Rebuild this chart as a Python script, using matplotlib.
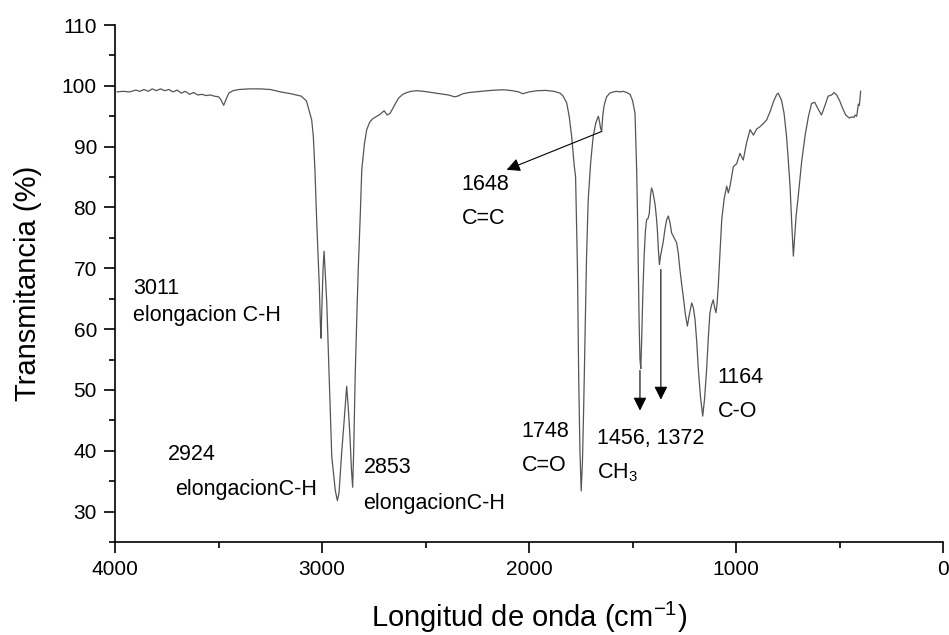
import matplotlib
matplotlib.use('Agg')
import matplotlib.pyplot as plt
from matplotlib.ticker import MultipleLocator

plt.rcParams['font.family'] = ['Liberation Sans', 'DejaVu Sans']
plt.rcParams['mathtext.fontset'] = 'custom'
plt.rcParams['mathtext.rm'] = 'Liberation Sans'
plt.rcParams['mathtext.it'] = 'Liberation Sans'

# FTIR spectrum
wavenumber = [3990, 3960, 3930, 3900, 3880, 3860, 3840, 3820, 3800, 3780, 3760, 3740, 3720, 3700,
              3680, 3660, 3640, 3620, 3600, 3580, 3560, 3540, 3520, 3500, 3490, 3475, 3462, 3450,
              3430, 3400, 3350, 3300, 3250, 3200, 3150, 3100, 3075, 3050, 3042, 3034, 3026, 3018,
              3013, 3008, 3005, 3000, 2995, 2990, 2984, 2977, 2969, 2961, 2953, 2945, 2936, 2926,
              2918, 2905, 2893, 2881, 2873, 2865, 2858, 2852, 2847, 2840, 2832, 2825, 2815, 2808,
              2795, 2784, 2770, 2755, 2740, 2720, 2700, 2685, 2671, 2650, 2630, 2610, 2590, 2570,
              2540, 2510, 2470, 2430, 2390, 2360, 2345, 2320, 2290, 2260, 2230, 2200, 2160, 2120,
              2080, 2050, 2030, 2000, 1960, 1920, 1880, 1850, 1835, 1818, 1806, 1794, 1782, 1775,
              1766, 1760, 1754, 1748, 1742, 1736, 1730, 1722, 1714, 1702, 1690, 1678, 1670, 1665,
              1660, 1654, 1649, 1644, 1638, 1633, 1625, 1610, 1593, 1577, 1560, 1545, 1528, 1512,
              1500, 1488, 1484, 1480, 1476, 1472, 1468, 1464, 1460, 1456, 1450, 1444, 1438, 1432,
              1425, 1419, 1413, 1408, 1402, 1396, 1391, 1385, 1380, 1375, 1370, 1365, 1358, 1351,
              1343, 1335, 1327, 1319, 1311, 1299, 1287, 1279, 1271, 1263, 1255, 1245, 1235, 1225,
              1214, 1206, 1198, 1190, 1182, 1172, 1161, 1152, 1142, 1134, 1126, 1118, 1110, 1103,
              1097, 1092, 1086, 1077, 1069, 1057, 1045, 1037, 1029, 1013, 997, 981, 965, 950, 932,
              916, 900, 884, 868, 852, 835, 818, 803, 796, 780, 768, 756, 748, 739, 731, 723, 716,
              710, 699, 683, 667, 650, 635, 620, 605, 587, 570, 555, 538, 526, 514, 500, 485, 470,
              453, 441, 430, 425, 417, 409, 404, 398]
transmittance = [99.0, 99.1, 99.0, 99.3, 99.1, 99.4, 99.1, 99.5, 99.2, 99.5, 99.2, 99.4, 99.0, 99.3,
                 98.8, 99.1, 98.6, 98.9, 98.5, 98.6, 98.4, 98.5, 98.3, 98.2, 97.8, 96.8, 97.9, 98.8,
                 99.2, 99.4, 99.5, 99.5, 99.4, 99.0, 98.7, 98.3, 97.5, 94.4, 91.7, 86.0, 78.0, 71.0,
                 67.0, 61.0, 58.5, 64.0, 70.0, 72.8, 69.0, 64.3, 56.0, 47.9, 39.1, 36.5, 33.5, 31.8,
                 33.0, 39.7, 45.0, 50.6, 47.0, 42.4, 37.0, 34.0, 40.0, 52.0, 62.0, 69.8, 79.0, 86.2,
                 90.5, 92.8, 94.0, 94.6, 94.9, 95.3, 95.9, 95.2, 95.5, 96.8, 98.0, 98.6, 98.9, 99.1,
                 99.2, 99.1, 98.9, 98.7, 98.5, 98.2, 98.3, 98.7, 98.9, 99.0, 99.1, 99.2, 99.3, 99.35,
                 99.2, 99.0, 98.7, 99.0, 99.2, 99.25, 99.1, 98.8, 98.3, 97.2, 95.0, 91.7, 87.0, 85.0,
                 70.0, 52.0, 40.0, 33.4, 38.0, 47.0, 58.0, 72.0, 81.3, 87.5, 91.7, 93.8, 94.6, 95.0,
                 94.2, 93.0, 92.5, 95.0, 96.6, 97.3, 98.2, 98.8, 99.0, 99.1, 99.0, 99.1, 98.9, 98.6,
                 97.6, 95.5, 91.0, 86.2, 79.0, 69.8, 61.0, 55.0, 53.5, 58.0, 66.0, 72.0, 76.0, 78.0,
                 78.2, 79.0, 82.0, 83.2, 82.6, 81.5, 80.5, 78.5, 76.3, 73.0, 70.6, 72.0, 73.2, 74.5,
                 76.5, 78.0, 78.6, 77.5, 75.8, 75.0, 74.2, 72.5, 69.8, 67.5, 65.4, 62.5, 60.5, 62.5,
                 64.3, 63.5, 61.6, 58.0, 53.4, 49.0, 45.7, 48.5, 53.4, 58.5, 62.7, 64.0, 64.8, 63.5,
                 62.7, 64.0, 67.0, 73.0, 78.0, 81.5, 83.5, 82.4, 83.5, 86.7, 87.2, 88.9, 87.8, 90.5, 92.8,
                 91.9, 92.9, 93.3, 93.8, 94.4, 95.8, 97.5, 98.6, 98.8, 97.6, 95.5, 91.7, 88.0, 83.5, 77.5, 72.0, 75.5,
                 78.5, 82.0, 87.5, 91.7, 95.0, 97.1, 97.3, 96.3, 95.2, 96.8, 98.3, 98.5, 98.9, 98.5, 97.6, 96.3, 95.2,
                 94.7, 94.9, 94.8, 95.2, 95.0, 97.0, 96.8, 99.1]

# (x, y) of each label line, baseline aligned
label_text = ['3011', 'elongacion C-H', '2924', 'elongacionC-H', '2853', 'elongacionC-H',
              '1648', 'C=C', '1748', 'C=O', '1456, 1372', 'CH$_3$', '1164', 'C-O']
label_x = [3913, 3913, 3744, 3710, 2800, 2800, 2325, 2325, 2035, 2035, 1673, 1673, 1090, 1090]
label_y = [65.8, 61.3, 38.5, 32.8, 36.3, 30.5, 82.8, 77.3, 42.3, 36.7, 41.1, 35.5, 51.1, 45.6]

# arrows: start -> tip
arrow_from = [(1649, 92.5), (1464, 53.2), (1363, 69.8)]
arrow_to = [(2108, 86.2), (1464, 46.6), (1363, 48.4)]

fig = plt.figure(figsize=(9.49, 6.35), dpi=100)
ax = fig.add_axes([0.1212, 0.1465, 0.8725, 0.8141])

ax.plot(wavenumber, transmittance, color='#555555', lw=0.9)

for t, x, y in zip(label_text, label_x, label_y):
    ax.text(x, y, t, fontsize=15.5, ha='left', va='baseline')

for a, b in zip(arrow_from, arrow_to):
    ax.annotate('', xy=b, xytext=a,
                arrowprops=dict(arrowstyle='-|>', color='black', lw=0.8,
                                mutation_scale=20, shrinkA=0, shrinkB=0))

ax.set_xlim(4000, 0)
ax.set_ylim(25, 110)
ax.xaxis.set_major_locator(MultipleLocator(1000))
ax.xaxis.set_minor_locator(MultipleLocator(500))
ax.yaxis.set_major_locator(MultipleLocator(10))
ax.yaxis.set_minor_locator(MultipleLocator(5))
ax.set_yticks(range(30, 111, 10))

ax.spines['top'].set_visible(False)
ax.spines['right'].set_visible(False)
ax.spines['left'].set_linewidth(1.2)
ax.spines['bottom'].set_linewidth(1.2)
ax.tick_params(which='major', direction='out', length=8, width=1.2, labelsize=15, pad=5)
ax.tick_params(which='minor', direction='out', length=4.5, width=1.2)

ax.set_xlabel('Longitud de onda (cm$^{-1}$)', fontsize=21)
ax.set_ylabel('Transmitancia (%)', fontsize=21)
ax.xaxis.set_label_coords(0.5, -0.112)
ax.yaxis.set_label_coords(-0.088, 0.5)

fig.savefig('out.png', dpi=100)
